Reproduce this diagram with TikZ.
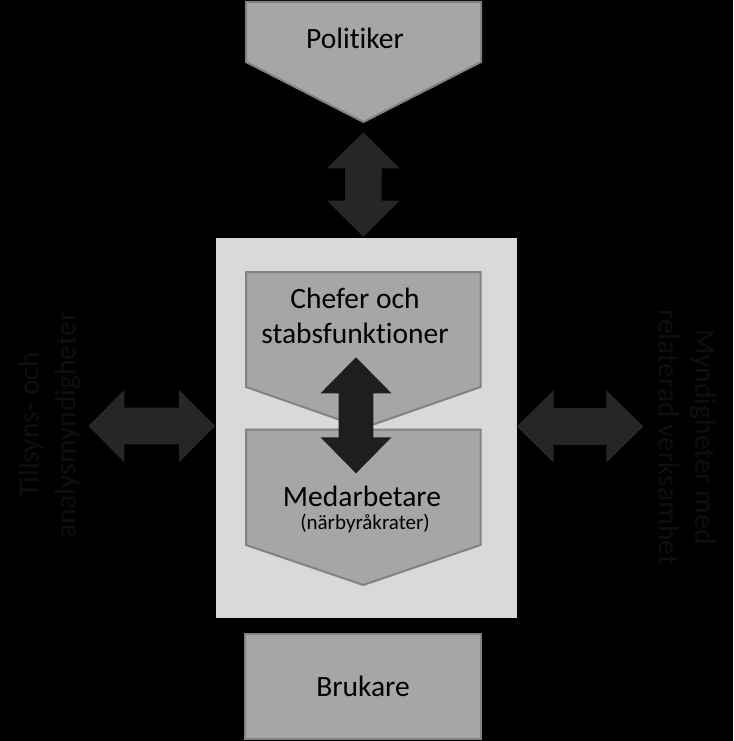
\documentclass[tikz,border=0pt]{standalone}
\usepackage{fontspec}
\setmainfont{Carlito}[Ligatures={NoCommon}]
\usepackage{tikz}
\usetikzlibrary{calc}

\definecolor{chevfill}{HTML}{A6A6A6}
\definecolor{chevline}{HTML}{828282}
\definecolor{orgfill}{HTML}{D9D9D9}
\definecolor{arrowgray}{HTML}{262626}
\definecolor{midgray}{HTML}{1E1E1E}
\definecolor{sidetext}{HTML}{0F0F0F}

\tikzstyle{chev} = [draw=chevline, fill=chevfill, line width=2pt]
\tikzstyle{lbl} = [inner sep=0pt, align=center, font=\fontsize{29.5}{35.5}\selectfont]
\tikzstyle{sidelbl} = [lbl, text=sidetext, font=\fontsize{29.5}{36.5}\selectfont]

% double block arrow: half length, head length, half head width, half shaft width
\tikzset{
  pics/dblarrow/.style n args={5}{code={
    \fill[#5] (-#1,0) -- (-#1+#2,#3) -- (-#1+#2,#4) -- (#1-#2,#4) -- (#1-#2,#3) -- (#1,0)
      -- (#1-#2,-#3) -- (#1-#2,-#4) -- (-#1+#2,-#4) -- (-#1+#2,-#3) -- cycle;
  }}
}

\begin{document}
\begin{tikzpicture}[x=1pt, y=-1pt]
	\useasboundingbox (0,0) rectangle (733,741);
	\fill[black] (0,0) rectangle (733,741);

	% top
	\draw[chev] (246,2) -- (481,2) -- (481,62) -- (363.5,122) coordinate (poltip) -- (246,62) -- cycle;
	\node[lbl] (pol) at (355,38.5) {Politiker};
	\pic[rotate=90] at (363.3,184.5) {dblarrow={52.2}{36}{36.3}{18.3}{arrowgray}};

	% organisation
	\node[fill=orgfill, minimum width=301.3pt, minimum height=379.7pt, inner sep=0pt] (org) at (366.35,428.15) {};
	\draw[chev] (246,272) -- (480.5,272) -- (480.5,387) -- (363.3,428) -- (246,387) -- cycle;
	\draw[chev] (246,429.5) -- (480.5,429.5) -- (480.5,545) -- (363.3,585) coordinate (medtip) -- (246,545) -- cycle;
	\node[lbl] (chef) at (355,316) {Chefer och\\stabsfunktioner};
	\node[lbl] (med) at (362,496) {Medarbetare};
	\node[inner sep=0pt, font=\fontsize{21}{25}\selectfont] (medsub) at (365,524) {(närbyråkrater)};
	\pic[rotate=90] at (356,415.3) {dblarrow={58}{36}{35.5}{17.3}{midgray}};

	% sides
	\pic at (151.7,426) {dblarrow={63.3}{36}{36.3}{18.3}{arrowgray}};
	\pic at (580,426.5) {dblarrow={63.3}{37}{36.3}{18.3}{arrowgray}};
	\node[sidelbl, rotate=90] (tillsyn) at (49.5,425) {Tillsyns- och\\analysmyndigheter};
	\node[sidelbl, rotate=-90] (myndig) at (687,437) {Myndigheter med\\relaterad verksamhet};

	% bottom
	\node[chev, lbl, minimum width=235.5pt, minimum height=105pt] (bru) at (363,686.7) {Brukare};
\end{tikzpicture}
\end{document}
